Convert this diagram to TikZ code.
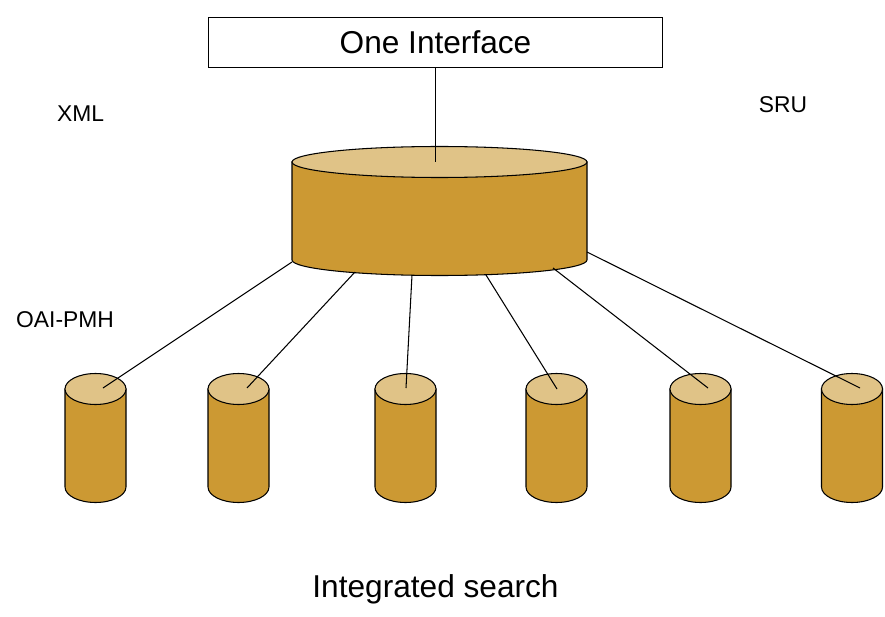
\documentclass[tikz,border=0pt]{standalone}
\usepackage{fontspec}
\setmainfont{Liberation Sans}
\usetikzlibrary{positioning, calc}
\definecolor{drumbody}{RGB}{204,153,51}
\definecolor{drumlid}{RGB}{224,195,135}
\tikzset{
    auto, line width=0.5pt,
    pics/drum/.style 2 args={code={ % #1 half width, #2 body height
        \path[fill=drumbody, draw] (-#1,0) -- (-#1,-#2)
            arc[start angle=180, end angle=360, x radius=#1, y radius=15.5] -- (#1,0) -- cycle;
        \path[fill=drumlid, draw] (0,0) ellipse[x radius=#1, y radius=15.5];
        \coordinate (-lid) at (0,0);
    }},
    frame/.style ={rectangle, draw, minimum width=9.1cm, minimum height=1cm,
                   font=\fontsize{18}{21}\selectfont},
    tag/.style = {inner sep=0pt, anchor=base, font=\fontsize{13}{15}\selectfont}
    }

\begin{document}
\begin{tikzpicture}[
      x = 0.02cm, y = 0.02cm, % one unit is one pixel
      semithick % line style
    ]
    \useasboundingbox (0,0) rectangle (885,616);

    \node[frame] (face) at (435.5,573.5) {One Interface};
    \pic (hub) at (439.5,454) {drum={147.5}{98}};

    \pic (s1) at (95.5,227) {drum={30.5}{98}};
    \pic (s2) at (238.5,227) {drum={30.5}{98}};
    \pic (s3) at (405.5,227) {drum={30.5}{98}};
    \pic (s4) at (556.5,227) {drum={30.5}{98}};
    \pic (s5) at (700.5,227) {drum={30.5}{98}};
    \pic (s6) at (852,227) {drum={30.5}{98}};

    \node[tag] (xml) at (80.5,494) {XML};
    \node[tag] (sru) at (783,503) {SRU};
    \node[tag] (oai) at (65,289) {OAI-PMH};
    \node[tag, font=\fontsize{18}{21}\selectfont] (title) at (435.5,19) {Integrated search};

    % where the links leave the hub
    \coordinate (b1) at ($(hub-lid)+(-147.5,-100)$);
    \coordinate (b2) at ($(hub-lid)+(-84.5,-110)$);
    \coordinate (b3) at ($(hub-lid)+(-27.5,-113)$);
    \coordinate (b4) at ($(hub-lid)+(46.5,-113)$);
    \coordinate (b5) at ($(hub-lid)+(113.5,-106)$);
    \coordinate (b6) at ($(hub-lid)+(147.5,-90)$);

    \path (face.south) edge (face.south |- hub-lid);

    \path (b1) edge ($(s1-lid)+(7.5,1)$);
    \path (b2) edge ($(s2-lid)+(8.5,1)$);
    \path (b3) edge ($(s3-lid)+(0.5,1)$);
    \path (b4) edge ($(s4-lid)+(0.5,0)$);
    \path (b5) edge ($(s5-lid)+(7.5,1)$);
    \path (b6) edge ($(s6-lid)+(8,1)$);
\end{tikzpicture}
\end{document}
